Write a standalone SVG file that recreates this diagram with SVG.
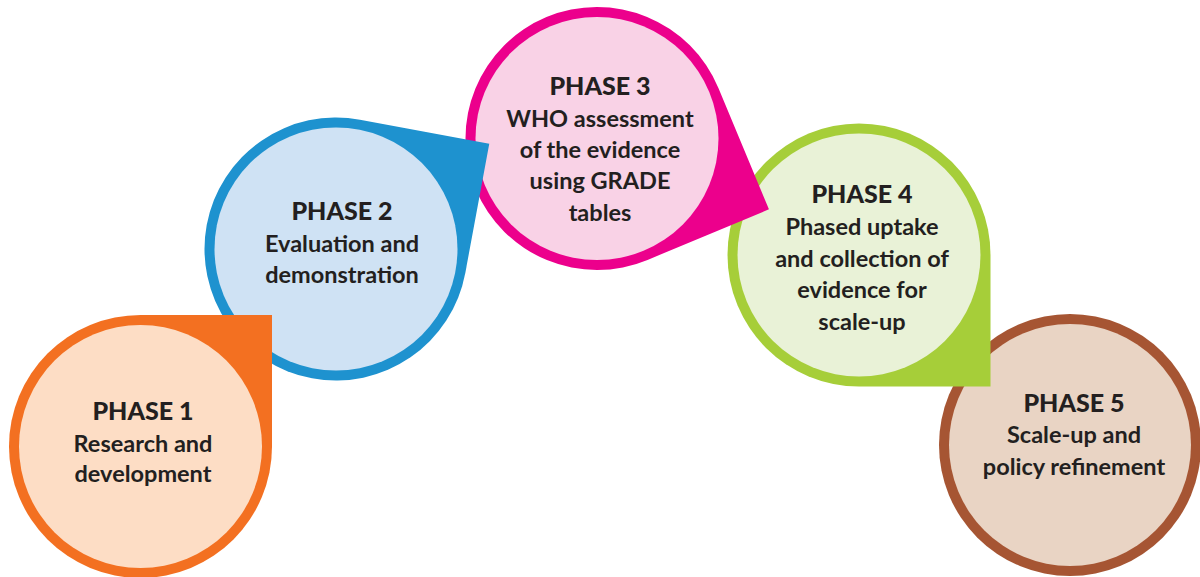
<svg xmlns="http://www.w3.org/2000/svg" width="1200" height="577" viewBox="0 0 1200 577">
  <defs>
    <style>
      text { font-family: Lato, "Open Sans", "Liberation Sans", sans-serif; fill: #231F20; text-anchor: middle; font-weight: bold; }
      .h { font-size: 25px; font-weight: 900; }
      .t { font-size: 23.5px; }
    </style>
    <path id="drop" d="M0,-131.5 L131.5,-131.5 L131.5,0 A131.5,131.5 0 1 1 0,-131.5 Z"/>
  </defs>
  <g id="connectors"/>
  <g id="phase5">
    <circle cx="1070" cy="445" r="131" fill="#A65533"/>
    <circle cx="1070" cy="445" r="121" fill="#E9D4C4"/>
    <text class="h" x="1074" y="412">PHASE 5</text>
    <text class="t" x="1074" y="443">Scale-up and</text>
    <text class="t" x="1074" y="475">policy refinement</text>
  </g>
  <g id="phase4">
    <use href="#drop" transform="translate(859,255) rotate(90)" fill="#A6CE39"/>
    <circle cx="859" cy="255" r="121.5" fill="#E9F2D7"/>
    <text class="h" x="862" y="203">PHASE 4</text>
    <text class="t" x="862" y="235">Phased uptake</text>
    <text class="t" x="862" y="267">and collection of</text>
    <text class="t" x="862" y="298">evidence for</text>
    <text class="t" x="862" y="330">scale-up</text>
  </g>
  <g id="phase3">
    <use href="#drop" transform="translate(597,138.5) rotate(67.4)" fill="#EC008C"/>
    <circle cx="597" cy="138.5" r="121.5" fill="#F9D2E6"/>
    <text class="h" x="600" y="95">PHASE 3</text>
    <text class="t" x="600" y="127">WHO assessment</text>
    <text class="t" x="600" y="158">of the evidence</text>
    <text class="t" x="600" y="189">using GRADE</text>
    <text class="t" x="600" y="221">tables</text>
  </g>
  <g id="phase2">
    <use href="#drop" transform="translate(336,249) rotate(10.5)" fill="#1E92CF"/>
    <circle cx="336" cy="249" r="121.5" fill="#CFE2F4"/>
    <text class="h" x="342" y="220">PHASE 2</text>
    <text class="t" x="342" y="252">Evaluation and</text>
    <text class="t" x="342" y="283">demonstration</text>
  </g>
  <g id="phase1">
    <use href="#drop" transform="translate(140.5,446.5)" fill="#F37021"/>
    <circle cx="140.5" cy="446.5" r="121.5" fill="#FDDDC5"/>
    <text class="h" x="143" y="420">PHASE 1</text>
    <text class="t" x="143" y="452">Research and</text>
    <text class="t" x="143" y="482">development</text>
  </g>
</svg>
